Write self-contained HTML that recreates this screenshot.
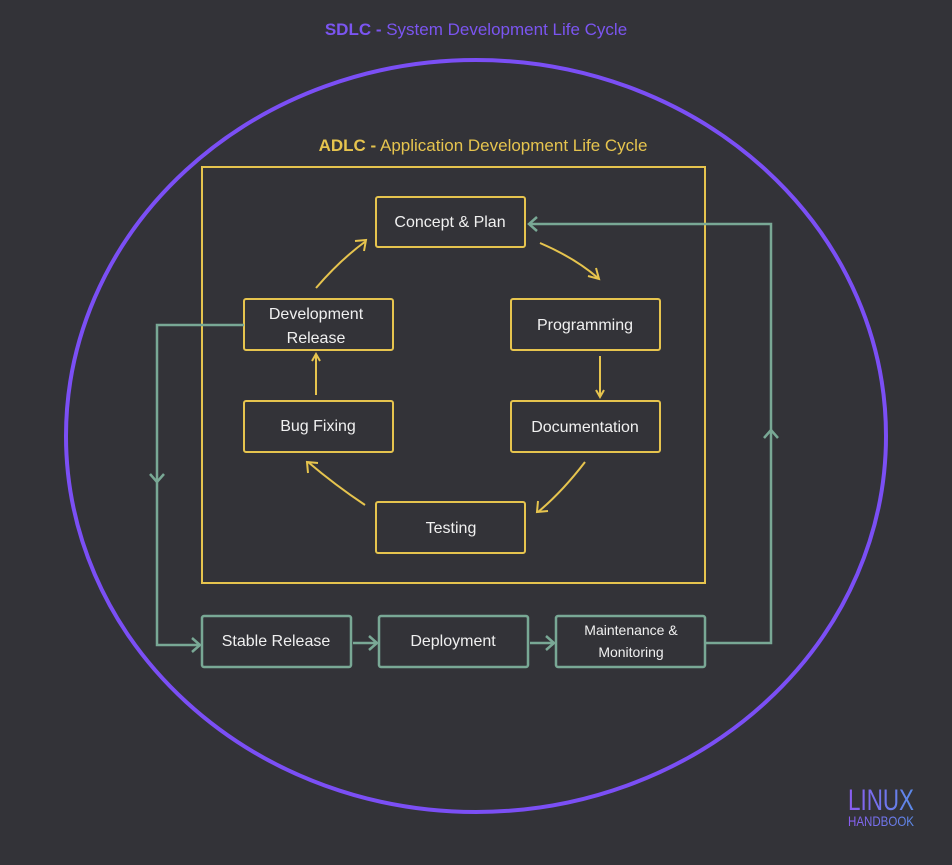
<!DOCTYPE html>
<html><head><style>
body{margin:0;background:#333338;width:952px;height:860px;overflow:hidden;font-family:"Liberation Sans",sans-serif}
</style></head><body>
<svg width="952" height="860" viewBox="0 0 952 860" xmlns="http://www.w3.org/2000/svg">
<rect width="952" height="860" fill="#333338"/>
<text x="476" y="35" text-anchor="middle" font-size="17" fill="#7b55f0"><tspan font-weight="bold">SDLC -</tspan> System Development Life Cycle</text>
<ellipse cx="476" cy="436" rx="410" ry="376" fill="none" stroke="#7b4ff5" stroke-width="4"/>
<text x="483" y="151" text-anchor="middle" font-size="17" fill="#e6c44e"><tspan font-weight="bold">ADLC -</tspan> Application Development Life Cycle</text>
<rect x="202" y="167" width="503" height="416" fill="none" stroke="#e6c44e" stroke-width="2"/>
<g fill="none" stroke="#e6c44e" stroke-width="2">
<rect x="376" y="197" width="149" height="50" rx="2"/>
<rect x="511" y="299" width="149" height="51" rx="2"/>
<rect x="511" y="401" width="149" height="51" rx="2"/>
<rect x="376" y="502" width="149" height="51" rx="2"/>
<rect x="244" y="401" width="149" height="51" rx="2"/>
<rect x="244" y="299" width="149" height="51" rx="2"/>
<path d="M540 243 Q575 258 598 278"/><path d="M588 276 L599 279 L596 268"/>
<path d="M316 288 Q340 260 366 241"/><path d="M355 241 L366 240 L364 251"/>
<path d="M600 356 V396"/><path d="M596 390 L600 397 L604 390"/>
<path d="M585 462 Q562 492 538 512"/><path d="M538 501 L537 512 L548 511"/>
<path d="M365 505 Q335 485 308 462"/><path d="M308 473 L307 462 L318 463"/>
<path d="M316 395 V354"/><path d="M312 361 L316 354 L320 361"/>
</g>
<g fill="none" stroke="#79a895" stroke-width="2.5">
<rect x="202" y="616" width="149" height="51" rx="2"/>
<rect x="379" y="616" width="149" height="51" rx="2"/>
<rect x="556" y="616" width="149" height="51" rx="2"/>
<path d="M244 325 H157 V645 H200"/><path d="M192 638 L200 645 L192 652"/>
<path d="M150 474 L157 482 L164 474"/>
<path d="M353 643 H377"/><path d="M369 636 L377 643 L369 650"/>
<path d="M530 643 H554"/><path d="M546 636 L554 643 L546 650"/>
<path d="M705 643 H771 V224 H529"/><path d="M537 217 L529 224 L537 231"/>
<path d="M764 438 L771 430 L778 438"/>
</g>
<g fill="#f0f0f0" font-size="16" text-anchor="middle">
<text x="450" y="227">Concept &amp; Plan</text>
<text x="585" y="330">Programming</text>
<text x="585" y="432">Documentation</text>
<text x="451" y="533">Testing</text>
<text x="318" y="431">Bug Fixing</text>
<text x="316" y="319">Development</text>
<text x="316" y="343">Release</text>
<text x="276" y="646">Stable Release</text>
<text x="453" y="646">Deployment</text>
<text x="631" y="635" font-size="14">Maintenance &amp;</text>
<text x="631" y="657" font-size="14">Monitoring</text>
</g>
<defs><linearGradient id="g" x1="0" x2="1"><stop offset="0" stop-color="#8a5cf0"/><stop offset="1" stop-color="#5b8ae8"/></linearGradient></defs>
<text x="881" y="810" text-anchor="middle" font-size="30" fill="url(#g)" font-weight="300" textLength="66" lengthAdjust="spacingAndGlyphs">LINUX</text>
<text x="881" y="826" text-anchor="middle" font-size="14" fill="url(#g)" textLength="66" lengthAdjust="spacingAndGlyphs">HANDBOOK</text>
</svg>
</body></html>
